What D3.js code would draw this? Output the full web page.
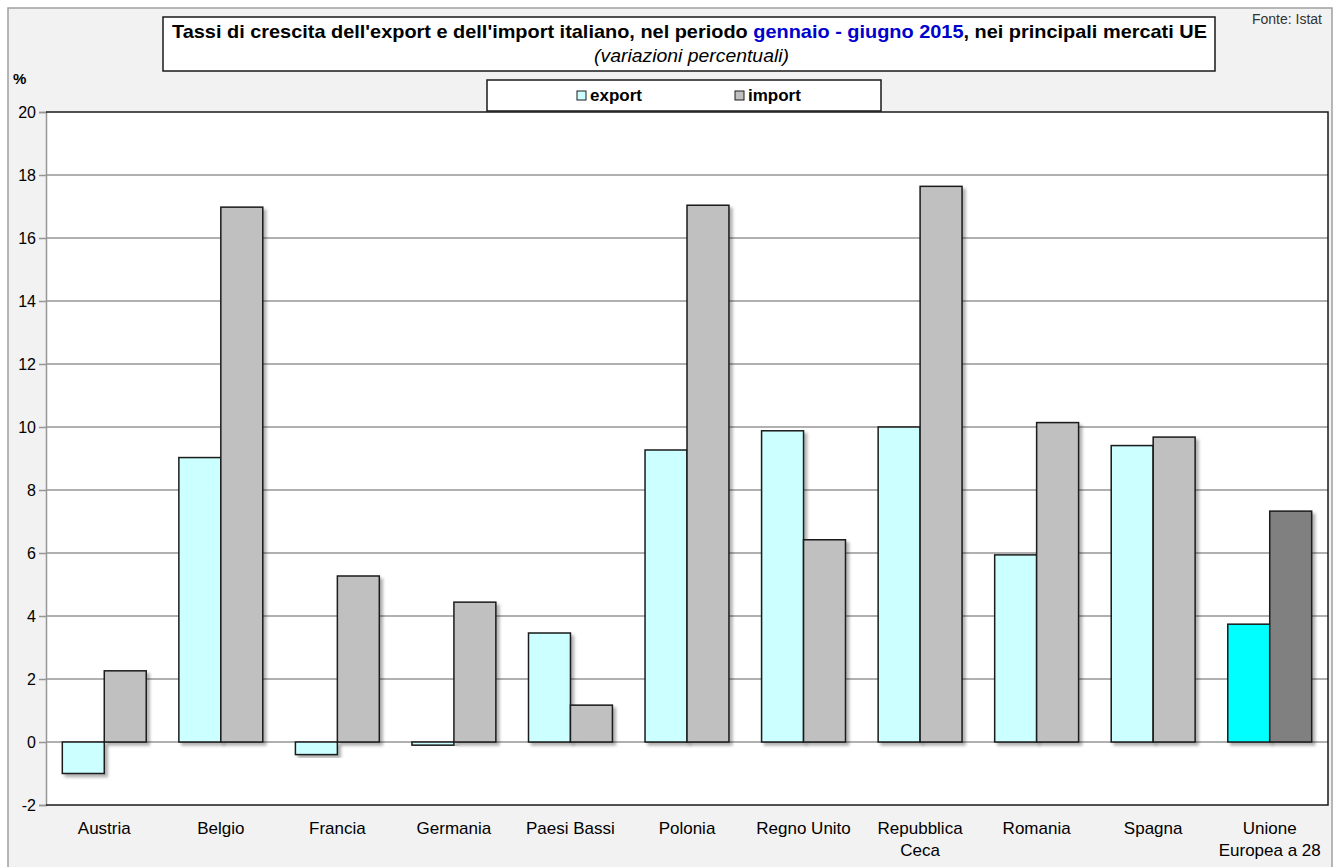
<!DOCTYPE html>
<meta charset="utf-8">
<script src="https://d3js.org/d3.v7.min.js"></script>
<style>
  body { margin: 0; background: #fff; }
  text { font-family: "Liberation Sans", Arial, sans-serif; }
</style>
<div id="chart"></div>
<script>
// data
var countries = ["Austria", "Belgio", "Francia", "Germania", "Paesi Bassi", "Polonia",
                 "Regno Unito", "Repubblica Ceca", "Romania", "Spagna", "Unione Europea a 28"];
var labelLines = [["Austria"], ["Belgio"], ["Francia"], ["Germania"], ["Paesi Bassi"], ["Polonia"],
                  ["Regno Unito"], ["Repubblica", "Ceca"], ["Romania"], ["Spagna"], ["Unione", "Europea a 28"]];
var exportVals = [-1.0, 9.03, -0.4, -0.1, 3.46, 9.27, 9.88, 10.0, 5.94, 9.41, 3.74];
var importVals = [2.26, 16.98, 5.27, 4.44, 1.17, 17.04, 6.42, 17.64, 10.14, 9.68, 7.33];
var series = ["export", "import"];
var yTicks = [-2, 0, 2, 4, 6, 8, 10, 12, 14, 16, 18, 20];

var W = 1335, H = 867;
var pLeft = 46, pRight = 1328, pTop = 112, pBottom = 805;

var svg = d3.select("#chart").append("svg")
  .attr("width", W).attr("height", H);

// drop shadow for bars
var defs = svg.append("defs");
var f = defs.append("filter").attr("id", "shadow")
  .attr("x", "-20%").attr("y", "-20%").attr("width", "140%").attr("height", "140%");
f.append("feDropShadow").attr("dx", 3).attr("dy", 3).attr("stdDeviation", 1.5)
  .attr("flood-color", "#000").attr("flood-opacity", 0.3);

// outer chart area
svg.append("rect").attr("x", 8).attr("y", 8).attr("width", 1324).attr("height", 880)
  .attr("fill", "#f2f2f2").attr("stroke", "#a0a0a0").attr("stroke-width", 1.5);

// plot area
svg.append("rect").attr("x", pLeft).attr("y", pTop)
  .attr("width", pRight - pLeft).attr("height", pBottom - pTop).attr("fill", "#fff");

var y = d3.scaleLinear().domain([-2, 20]).range([pBottom, pTop]);
var x0 = d3.scaleBand().domain(countries).range([pLeft, pRight]).padding(0);
var bw = x0.bandwidth();
var x1 = d3.scaleBand().domain(series).range([bw * 0.14, bw * 0.86]).padding(0);

// gridlines
svg.append("g").selectAll("line").data(yTicks.filter(d => d > -2 && d < 20)).enter()
  .append("line")
  .attr("x1", pLeft).attr("x2", pRight)
  .attr("y1", d => y(d)).attr("y2", d => y(d))
  .attr("stroke", "#969696").attr("stroke-width", 1.5);

// y axis
var yAxis = svg.append("g").attr("transform", "translate(" + pLeft + ",0)")
  .call(d3.axisLeft(y).tickValues(yTicks).tickSize(7).tickPadding(3)
    .tickFormat(d => String(d)));
yAxis.select(".domain").attr("stroke", "#969696").attr("stroke-width", 1.5);
yAxis.selectAll(".tick line").attr("stroke", "#969696").attr("stroke-width", 1.5);
yAxis.selectAll(".tick text").attr("font-size", 16).attr("fill", "#000")
  .attr("font-family", "Liberation Sans, Arial, sans-serif");

// bars
var colors = {
  export: function(i) { return i === countries.length - 1 ? "#00ffff" : "#ccffff"; },
  import: function(i) { return i === countries.length - 1 ? "#808080" : "#c0c0c0"; }
};
var rows = countries.map(function(c, i) {
  return { c: c, i: i, export: exportVals[i], import: importVals[i] };
});
var groups = svg.append("g").selectAll("g").data(rows).enter().append("g")
  .attr("transform", d => "translate(" + x0(d.c) + ",0)");
groups.selectAll("rect").data(d => series.map(s => ({ s: s, v: d[s], i: d.i }))).enter()
  .append("rect")
  .attr("x", d => x1(d.s))
  .attr("width", x1.bandwidth())
  .attr("y", d => y(Math.max(0, d.v)))
  .attr("height", d => Math.abs(y(d.v) - y(0)))
  .attr("fill", d => colors[d.s](d.i))
  .attr("stroke", "#1a1a1a").attr("stroke-width", 1.5)
  .attr("filter", "url(#shadow)");

// plot border (top, right, bottom)
svg.append("path")
  .attr("d", "M" + pLeft + "," + pTop + "H" + pRight + "V" + pBottom + "H" + pLeft)
  .attr("fill", "none").attr("stroke", "#1a1a1a").attr("stroke-width", 1.5);

// x labels
var xl = svg.append("g").selectAll("text").data(countries).enter().append("text")
  .attr("x", d => x0(d) + bw / 2)
  .attr("y", 834)
  .attr("text-anchor", "middle")
  .attr("font-size", 17);
xl.selectAll("tspan").data((d, i) => labelLines[i]).enter().append("tspan")
  .attr("x", function() { return d3.select(this.parentNode).attr("x"); })
  .attr("dy", (d, j) => j === 0 ? 0 : 22)
  .text(d => d);

// % label
svg.append("text").attr("x", 13).attr("y", 84).attr("font-size", 15)
  .attr("font-weight", "bold").text("%");

// title box
svg.append("rect").attr("x", 163).attr("y", 17).attr("width", 1052).attr("height", 54)
  .attr("fill", "#fff").attr("stroke", "#1a1a1a").attr("stroke-width", 1.5);
var t = svg.append("text").attr("x", 172).attr("y", 38)
  .attr("font-size", 18.5).attr("font-weight", "bold")
  .attr("textLength", 1035).attr("lengthAdjust", "spacingAndGlyphs");
t.append("tspan").text("Tassi di crescita dell'export e dell'import italiano, nel periodo ");
t.append("tspan").attr("fill", "#0000cc").text("gennaio - giugno 2015");
t.append("tspan").text(", nei principali mercati UE");
svg.append("text").attr("x", 594).attr("y", 62)
  .attr("font-size", 18.5).attr("font-style", "italic")
  .attr("textLength", 195).attr("lengthAdjust", "spacingAndGlyphs")
  .text("(variazioni percentuali)");

// source
svg.append("text").attr("x", 1322).attr("y", 24).attr("text-anchor", "end")
  .attr("font-size", 14).attr("fill", "#333").text("Fonte: Istat");

// legend
svg.append("rect").attr("x", 487).attr("y", 80).attr("width", 394).attr("height", 31)
  .attr("fill", "#fff").attr("stroke", "#1a1a1a").attr("stroke-width", 1.5);
var legX = [577, 735];
var leg = svg.append("g").selectAll("g").data(series).enter().append("g")
  .attr("transform", (d, i) => "translate(" + legX[i] + ",91)");
leg.append("rect").attr("width", 9).attr("height", 9)
  .attr("fill", (d, i) => i === 0 ? "#ccffff" : "#c0c0c0")
  .attr("stroke", "#1a1a1a").attr("stroke-width", 1);
leg.append("text").attr("x", 13).attr("y", 10).attr("font-size", 17)
  .attr("font-weight", "bold").text(d => d);
</script>
